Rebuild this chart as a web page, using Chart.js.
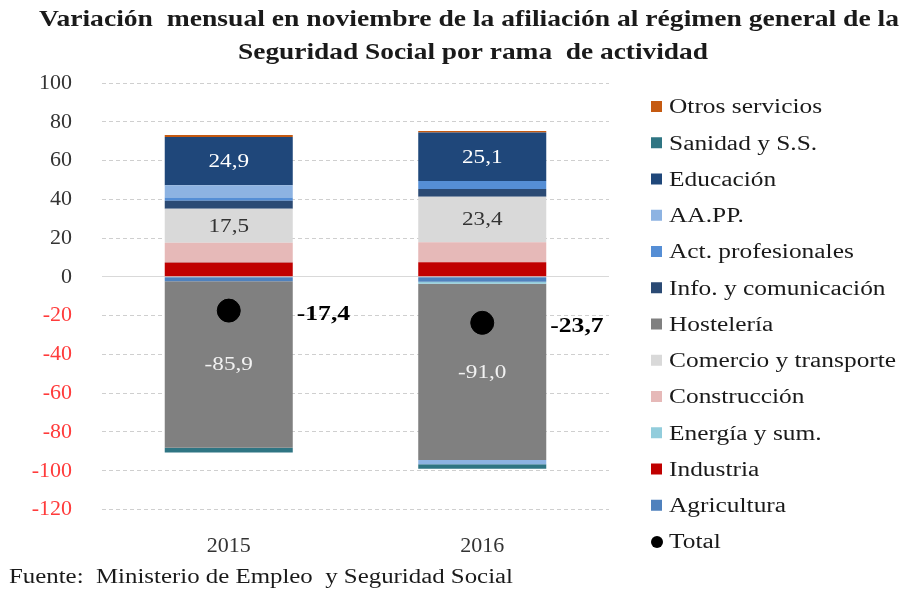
<!DOCTYPE html>
<html>
<head>
<meta charset="utf-8">
<script src="https://cdn.jsdelivr.net/npm/chart.js@4"></script>
<style>
  body { margin: 0; background: #fff; }
  #wrap { width: 909px; height: 592px; position: relative; }
</style>
</head>
<body>
<div id="wrap"><canvas id="afilChart"></canvas></div>
<script>
// datos (variación mensual, miles de afiliados)
const years = ['2015', '2016'];
const agricultura = [-2.2, -2.5];
const industria = [7.4, 7.6];
const energia = [0.2, -1.0];
const construccion = [10.0, 10.3];
const comercio = [17.5, 23.4];
const hosteleria = [-85.9, -91.0];
const info = [4.2, 4.0];
const actProf = [1.6, 4.1];
const aapp = [6.4, -2.2];
const educacion = [24.9, 25.1];
const sanidad = [-2.5, -2.3];
const otros = [1.0, 0.8];
const total = [-17.4, -23.7];
const yTicks = [100, 80, 60, 40, 20, 0, -20, -40, -60, -80, -100, -120];

const serif = "'Liberation Serif', 'Times New Roman', serif";

// orden de apilado (de abajo a arriba), como en la hoja original
const series = [
  { name: 'Agricultura', data: agricultura, color: '#4f81bd' },
  { name: 'Industria', data: industria, color: '#c00000' },
  { name: 'Energía y sum.', data: energia, color: '#92cddc' },
  { name: 'Construcción', data: construccion, color: '#e6b9b8' },
  { name: 'Comercio y transporte', data: comercio, color: '#d9d9d9' },
  { name: 'Hostelería', data: hosteleria, color: '#808080' },
  { name: 'Info. y comunicación', data: info, color: '#2b4a74' },
  { name: 'Act. profesionales', data: actProf, color: '#558ed5' },
  { name: 'AA.PP.', data: aapp, color: '#8db3e2' },
  { name: 'Educación', data: educacion, color: '#1f477a' },
  { name: 'Sanidad y S.S.', data: sanidad, color: '#2f7583' },
  { name: 'Otros servicios', data: otros, color: '#c55a11' }
];

// etiquetas dentro de las barras
const labelled = {
  'Educación': '#ffffff',
  'Comercio y transporte': '#333333',
  'Hostelería': '#f2f2f2'
};

const fmt = v => v.toFixed(1).replace('.', ',');

// el original tiene el texto algo ensanchado
const SX = 1.27;
function wideText(ctx, text, x, y, sx, align) {
  ctx.save();
  ctx.translate(x, y);
  ctx.scale(sx, 1);
  ctx.textAlign = align;
  ctx.fillText(text, 0, 0);
  ctx.restore();
}
function fitText(ctx, text, x, y, width, align) {
  const w = ctx.measureText(text).width;
  wideText(ctx, text, x, y, width / w, align);
}

const extras = {
  id: 'extras',
  afterDatasetsDraw(chart) {
    const ctx = chart.ctx;
    ctx.save();
    ctx.textBaseline = 'middle';
    ctx.font = '19px ' + serif;
    chart.data.datasets.forEach((ds, i) => {
      if (!labelled[ds.label]) return;
      const meta = chart.getDatasetMeta(i);
      meta.data.forEach((bar, j) => {
        const p = bar.getProps(['x', 'y', 'base'], true);
        ctx.fillStyle = labelled[ds.label];
        wideText(ctx, fmt(ds.data[j]), p.x, (p.y + p.base) / 2 + 1, 1.22, 'center');
      });
    });
    // total a la derecha de cada barra
    const ti = chart.data.datasets.length - 1;
    const tmeta = chart.getDatasetMeta(ti);
    ctx.font = 'bold 20px ' + serif;
    ctx.fillStyle = '#000';
    tmeta.data.forEach((pt, j) => {
      wideText(ctx, fmt(total[j]), pt.x + 68, pt.y + 4, 1.28, 'left');
    });
    ctx.restore();
  },
  afterDraw(chart) {
    const ctx = chart.ctx;
    ctx.save();
    // título
    ctx.fillStyle = '#1a1a1a';
    ctx.textBaseline = 'middle';
    ctx.font = 'bold 24px ' + serif;
    fitText(ctx, 'Variación  mensual en noviembre de la afiliación al régimen general de la', 469, 20, 860, 'center');
    fitText(ctx, 'Seguridad Social por rama  de actividad', 473, 53, 470, 'center');

    // leyenda (orden inverso)
    ctx.font = '20px ' + serif;
    const items = chart.data.datasets.slice(0, -1).reverse();
    let y = 107;
    items.forEach(ds => {
      ctx.fillStyle = ds.backgroundColor;
      ctx.fillRect(651, y - 6, 11, 11);
      ctx.fillStyle = '#1a1a1a';
      wideText(ctx, ds.label, 669, y + 1, SX, 'left');
      y += 36.25;
    });
    ctx.fillStyle = '#000';
    ctx.beginPath();
    ctx.arc(657, y, 6, 0, Math.PI * 2);
    ctx.fill();
    ctx.fillStyle = '#1a1a1a';
    wideText(ctx, 'Total', 669, y + 1, SX, 'left');

    // fuente
    ctx.font = '20px ' + serif;
    fitText(ctx, 'Fuente:  Ministerio de Empleo  y Seguridad Social', 9, 578, 504, 'left');
    ctx.restore();
  }
};

const datasets = series.map(s => ({
  type: 'bar',
  label: s.name,
  data: s.data,
  backgroundColor: s.color,
  borderWidth: 0,
  categoryPercentage: 1,
  barPercentage: 0.505,
  order: 1
}));

datasets.push({
  type: 'line',
  label: 'Total',
  data: total,
  showLine: false,
  pointRadius: 11.5,
  pointHoverRadius: 11.5,
  pointBackgroundColor: '#000',
  pointBorderColor: '#000',
  order: 0
});

const ctx = document.getElementById('afilChart').getContext('2d');

const afilChart = new Chart(ctx, {
  data: { labels: years, datasets: datasets },
  options: {
    responsive: true,
    maintainAspectRatio: false,
    animation: false,
    layout: { padding: { top: 83, right: 300, bottom: 32.5, left: 0 } },
    plugins: {
      legend: { display: false },
      tooltip: { enabled: false }
    },
    scales: {
      x: {
        stacked: true,
        grid: { display: false },
        border: { display: false },
        ticks: { color: '#333', font: { family: serif, size: 22 }, padding: 16 },
        afterFit(scale) { scale.height = 50; }
      },
      y: {
        stacked: true,
        min: -120,
        max: 100,
        afterBuildTicks(scale) { scale.ticks = yTicks.map(v => ({ value: v })); },
        grid: {
          drawTicks: false,
          color: c => c.tick && c.tick.value === 0 ? '#d9d9d9' : '#cfcfcf'
        },
        border: {
          display: false,
          dash: c => c.tick && c.tick.value === 0 ? [] : [4, 3]
        },
        ticks: {
          padding: 30,
          font: { family: serif, size: 22 },
          color: c => c.tick.value < 0 ? '#ff3b3b' : '#333',
          callback: v => v
        },
        afterFit(scale) { scale.width = 102; }
      }
    }
  },
  plugins: [extras]
});
</script>
</body>
</html>
